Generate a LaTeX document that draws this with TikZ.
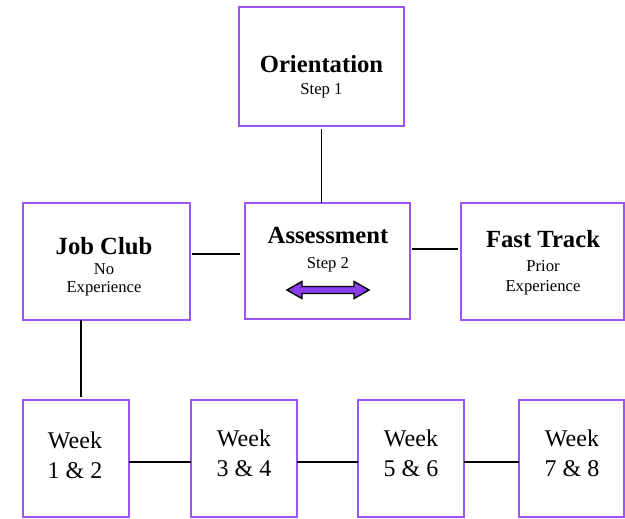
\documentclass[tikz,border=0pt]{standalone}
\usepackage{fontspec}
\setmainfont{Liberation Serif}
\definecolor{boxviolet}{RGB}{155,85,245}
\definecolor{arrowviolet}{RGB}{140,60,240}
\begin{document}
\begin{tikzpicture}[x=0.75pt,y=-0.75pt,
  box/.style={draw=boxviolet,line width=1.5pt,rectangle,inner sep=0pt,outer sep=0pt},
  title/.style={anchor=base,font=\fontsize{18.5}{22}\selectfont\bfseries,inner sep=0pt},
  sub/.style={anchor=base,font=\fontsize{12.5}{15}\selectfont,inner sep=0pt},
  week/.style={anchor=base,font=\fontsize{18}{22}\selectfont,inner sep=0pt},
  conn/.style={line width=1.3pt,black}]
\useasboundingbox (0,0) rectangle (625,518);
% boxes
\node[box,minimum width={165*0.75pt},minimum height={119*0.75pt}] (ori) at (321.5,66.5) {};
\node[box,minimum width={165*0.75pt},minimum height={116*0.75pt}] (ass) at (327.5,261) {};
\node[box,minimum width={167*0.75pt},minimum height={117*0.75pt}] (job) at (106.5,261.5) {};
\node[box,minimum width={163*0.75pt},minimum height={117*0.75pt}] (fast) at (542.5,261.5) {};
\node[box,minimum width={106*0.75pt},minimum height={117*0.75pt}] (w1) at (76,458.5) {};
\node[box,minimum width={106*0.75pt},minimum height={117*0.75pt}] (w2) at (244,458.5) {};
\node[box,minimum width={106*0.75pt},minimum height={117*0.75pt}] (w3) at (411,458.5) {};
\node[box,minimum width={105*0.75pt},minimum height={117*0.75pt}] (w4) at (571.5,458.5) {};
% texts
\node[title] (oriT) at (321.5,72) {Orientation};
\node[sub] (oriS) at (321.5,94) {Step 1};
\node[title] (assT) at (328,243) {Assessment};
\node[sub] (assS) at (328,268) {Step 2};
\node[title] (jobT) at (104,254) {Job Club};
\node[sub] (jobS1) at (104,274) {No};
\node[sub] (jobS2) at (104,292) {Experience};
\node[title] (fastT) at (543,247) {Fast Track};
\node[sub] (fastS1) at (543,271) {Prior};
\node[sub] (fastS2) at (543,291) {Experience};
\node[week] (w1a) at (75,448) {Week};
\node[week] (w1b) at (75,478) {1 \& 2};
\node[week] (w2a) at (244,446) {Week};
\node[week] (w2b) at (244,476) {3 \& 4};
\node[week] (w3a) at (411,446) {Week};
\node[week] (w3b) at (411,476) {5 \& 6};
\node[week] (w4a) at (572,446) {Week};
\node[week] (w4b) at (572,476) {7 \& 8};
% double arrow
\draw[fill=arrowviolet,draw=black,line width=1.1pt,line join=miter]
  (287,290) -- (302,281.5) -- (302,286.5) -- (354,286.5) -- (354,281.5) -- (369,290)
  -- (354,298.5) -- (354,293.5) -- (302,293.5) -- (302,298.5) -- cycle;
% connectors
\coordinate (r1) at (0,254);
\coordinate (r2) at (0,249);
\coordinate (r3) at (0,462);
\draw[conn,shorten <=2pt] (ori.south) -- (ori.south |- ass.north);
\draw[conn,shorten <=1.5pt,shorten >=3.5pt] (job.east |- r1) -- (ass.west |- r1);
\draw[conn,shorten <=1.5pt,shorten >=2pt] (ass.east |- r2) -- (fast.west |- r2);
\draw[conn,shorten >=2pt] (job.south -| 81,0) -- (w1.north -| 81,0);
\draw[conn] (w1.east |- r3) -- (w2.west |- r3);
\draw[conn] (w2.east |- r3) -- (w3.west |- r3);
\draw[conn] (w3.east |- r3) -- (w4.west |- r3);
\end{tikzpicture}
\end{document}
